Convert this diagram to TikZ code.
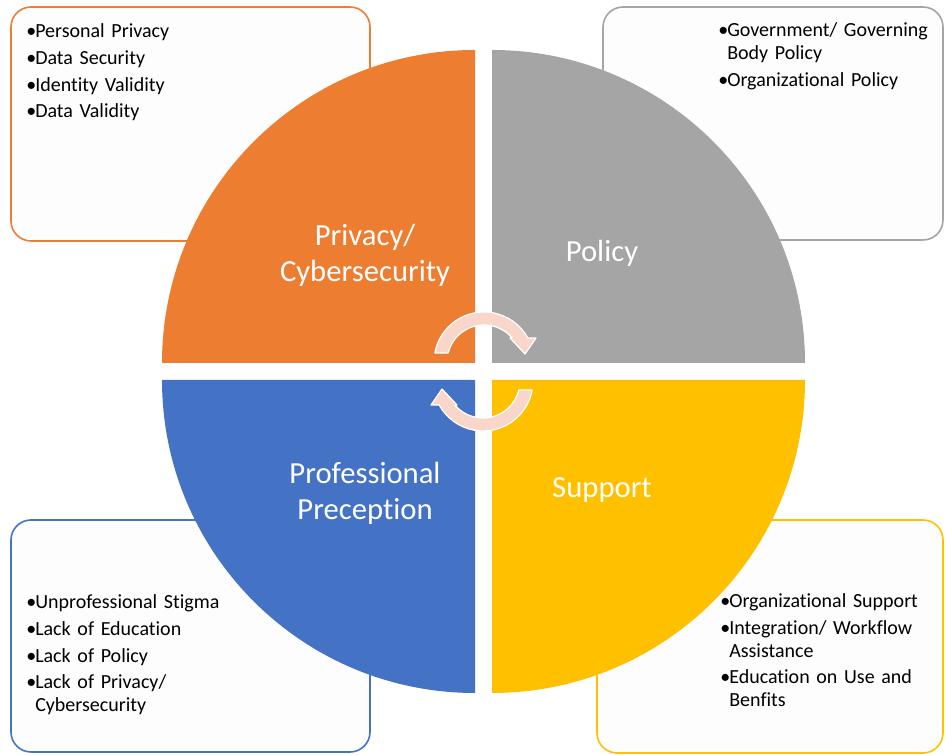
\documentclass[tikz,border=0pt]{standalone}
\usepackage{fontspec}
\setmainfont{Carlito}[Ligatures=CommonOff]
\usepackage{tikz}

\definecolor{privorange}{HTML}{ED7D31}
\definecolor{policygrey}{HTML}{A5A5A5}
\definecolor{percblue}{HTML}{4472C4}
\definecolor{suppyellow}{HTML}{FFC000}
\definecolor{cyclepink}{HTML}{F8D7CA}
\definecolor{boxfill}{HTML}{FDFDFD}

\newcommand{\bitem}[1]{\noindent\hangindent=6.75pt\hangafter=1\makebox[6.75pt][l]{\textbullet}#1\par}

\tikzset{
  infobox/.style={line width=1.2pt, rounded corners=15pt, fill=boxfill},
  listtext/.style={anchor=base west, inner sep=0pt, text width=260pt, align=left,
    font=\fontsize{15}{17}\selectfont\setlength{\parskip}{3pt}},
  quadlabel/.style={text=white, align=center, font=\fontsize{23}{27}\selectfont},
  cyclearrow/.style={fill=cyclepink, draw=white, line width=0.9pt, line join=round}
}

\begin{document}
\begin{tikzpicture}[x=0.75pt, y=0.75pt]
    \useasboundingbox (0,0) rectangle (945,755);

    % boxes behind the quarters
    \draw[infobox, draw=privorange] (11,514) rectangle (370,748);
    \draw[infobox, draw=policygrey] (603,515) rectangle (943,748);
    \draw[infobox, draw=percblue] (11,3) rectangle (370,235);
    \draw[infobox, draw=suppyellow] (597,2) rectangle (943,235);

    \foreach \col/\cx/\cy/\a in {privorange/475/392/90, policygrey/492/392/0, percblue/475/375/180, suppyellow/492/375/270}
        \fill[\col] (\cx,\cy) -- ++(\a:313) arc[start angle=\a, delta angle=90, radius=313] -- cycle;

    % the two turning arrows
    \foreach \r in {0,180} {
        \begin{scope}[shift={(483.5,383.5)}, rotate=\r, shift={(0.5,9.5)}]
            \filldraw[cyclearrow] (169.6:50) arc[start angle=169.6, end angle=28.7, radius=50]
                -- (52,24) -- (41,8) -- (26,24) -- (40.4:37) arc[start angle=40.4, end angle=166, radius=37] -- cycle;
        \end{scope}
    }

    \node[quadlabel] (privlabel) at (365,500) {Privacy/\\Cybersecurity};
    \node[quadlabel, anchor=base] (policylabel) at (602,493) {Policy};
    \node[quadlabel] (perclabel) at (365,262) {Professional\\Preception};
    \node[quadlabel, anchor=base] (supplabel) at (602,257) {Support};

    \node[listtext] (privlist) at (26,717) {\bitem{Personal Privacy}\bitem{Data Security}\bitem{Identity Validity}\bitem{Data Validity}};
    \node[listtext] (policylist) at (718,718) {\bitem{Government/ Governing\newline Body Policy}\bitem{Organizational Policy}};
    \node[listtext] (perclist) at (26,146) {\bitem{Unprofessional Stigma}\bitem{Lack of Education}\bitem{Lack of Policy}\bitem{Lack of Privacy/\newline Cybersecurity}};
    \node[listtext] (supplist) at (720,147) {\bitem{Organizational Support}\bitem{Integration/ Workflow\newline Assistance}\bitem{Education on Use and\newline Benfits}};
\end{tikzpicture}
\end{document}
